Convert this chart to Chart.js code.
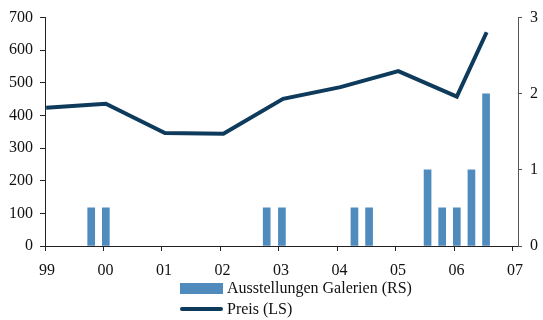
<!DOCTYPE html>
<html>
<head>
<meta charset="utf-8">
<script src="https://cdn.jsdelivr.net/npm/chart.js@4/dist/chart.umd.min.js"></script>
<style>
  html, body { margin: 0; padding: 0; background: #fff; }
  #wrap { position: relative; width: 543px; height: 320px; }
  #legend { position: absolute; left: 180px; top: 278px; font-family: "Liberation Serif", serif; font-size: 16px; color: #111; }
  .item { display: flex; align-items: center; height: 20px; margin-bottom: 1px; }
  .sw { width: 43px; margin-right: 4px; }
</style>
</head>
<body>
<div id="wrap">
  <canvas id="chart" width="543" height="320"></canvas>
  <div id="legend"></div>
</div>
<script>
// Jahresachse (Jahre als Dezimalzahlen) und Beschriftung
const years = [1999, 2000, 2001, 2002, 2003, 2004, 2005, 2006, 2007];
const yearLabels = ['99', '00', '01', '02', '03', '04', '05', '06', '07'];

// Preis (linke Skala)
const priceDates = [1999.02, 2000.04, 2001.05, 2002.05, 2003.07, 2004.05, 2005.04, 2006.04, 2006.55];
const priceValues = [424, 436, 346, 344, 451, 487, 536, 458, 655];

// Ausstellungen Galerien, quartalsweise (rechte Skala)
const showDates = [1999.79, 2000.04, 2002.79, 2003.05, 2004.29, 2004.54, 2005.54, 2005.79, 2006.04, 2006.29, 2006.54];
const showValues = [0.5, 0.5, 0.5, 0.5, 0.5, 0.5, 1, 0.5, 0.5, 1, 2];

const leftTicks = [0, 100, 200, 300, 400, 500, 600, 700];
const rightTicks = [0, 1, 2, 3];

const barColor = '#4f8bbd';
const lineColor = '#0e3a5c';
const axisColor = '#222';
const font = { family: '"Liberation Serif", serif', size: 16 };

const toPoints = (xs, ys) => xs.map((x, i) => ({ x: x, y: ys[i] }));

const chart = new Chart(document.getElementById('chart'), {
  type: 'bar',
  data: {
    datasets: [
      {
        type: 'bar',
        label: 'Ausstellungen Galerien (RS)',
        data: toPoints(showDates, showValues),
        backgroundColor: barColor,
        barThickness: 7,
        yAxisID: 'y1',
        order: 2
      },
      {
        type: 'line',
        label: 'Preis (LS)',
        data: toPoints(priceDates, priceValues),
        borderColor: lineColor,
        borderWidth: 4,
        pointRadius: 0,
        tension: 0,
        borderJoinStyle: 'miter',
        yAxisID: 'y',
        order: 1
      }
    ]
  },
  options: {
    responsive: false,
    animation: false,
    devicePixelRatio: 1,
    layout: { padding: { top: 17, left: 0, right: 0, bottom: 0 } },
    plugins: { legend: { display: false }, tooltip: { enabled: false } },
    scales: {
      x: {
        type: 'linear',
        min: 1999,
        max: 2007.086,
        offset: false,
        grid: { display: true, drawOnChartArea: false, offset: false, tickLength: 5, color: axisColor },
        border: { color: axisColor, width: 1 },
        afterBuildTicks: s => { s.ticks = years.map(v => ({ value: v })); },
        afterFit: s => { s.height = 74; },
        ticks: {
          color: '#111', font: font, padding: 10, labelOffset: 2, maxRotation: 0,
          callback: (v, i) => yearLabels[i]
        }
      },
      y: {
        position: 'left',
        min: 0,
        max: 700,
        grid: { drawOnChartArea: false, tickLength: 5, color: axisColor },
        border: { color: axisColor, width: 1 },
        afterBuildTicks: s => { s.ticks = leftTicks.map(v => ({ value: v })); },
        afterFit: s => { s.width = 45; },
        ticks: { color: '#111', font: font, padding: 7 }
      },
      y1: {
        position: 'right',
        min: 0,
        max: 3,
        grid: { drawOnChartArea: false, tickLength: 4, color: '#555' },
        border: { color: '#555', width: 1 },
        afterBuildTicks: s => { s.ticks = rightTicks.map(v => ({ value: v })); },
        afterFit: s => { s.width = 25; },
        ticks: { color: '#111', font: font, padding: 8 }
      }
    }
  }
});

// Legende untereinander, aus den Datensätzen gebaut
const legend = document.getElementById('legend');
chart.data.datasets.forEach(ds => {
  const item = document.createElement('div');
  item.className = 'item';
  const sw = document.createElement('div');
  sw.className = 'sw';
  if (ds.type === 'bar') {
    sw.style.height = '11px';
    sw.style.background = ds.backgroundColor;
  } else {
    sw.style.height = '4px';
    sw.style.borderRadius = '2px';
    sw.style.background = ds.borderColor;
  }
  const txt = document.createElement('span');
  txt.textContent = ds.label;
  item.appendChild(sw);
  item.appendChild(txt);
  legend.appendChild(item);
});
</script>
</body>
</html>
